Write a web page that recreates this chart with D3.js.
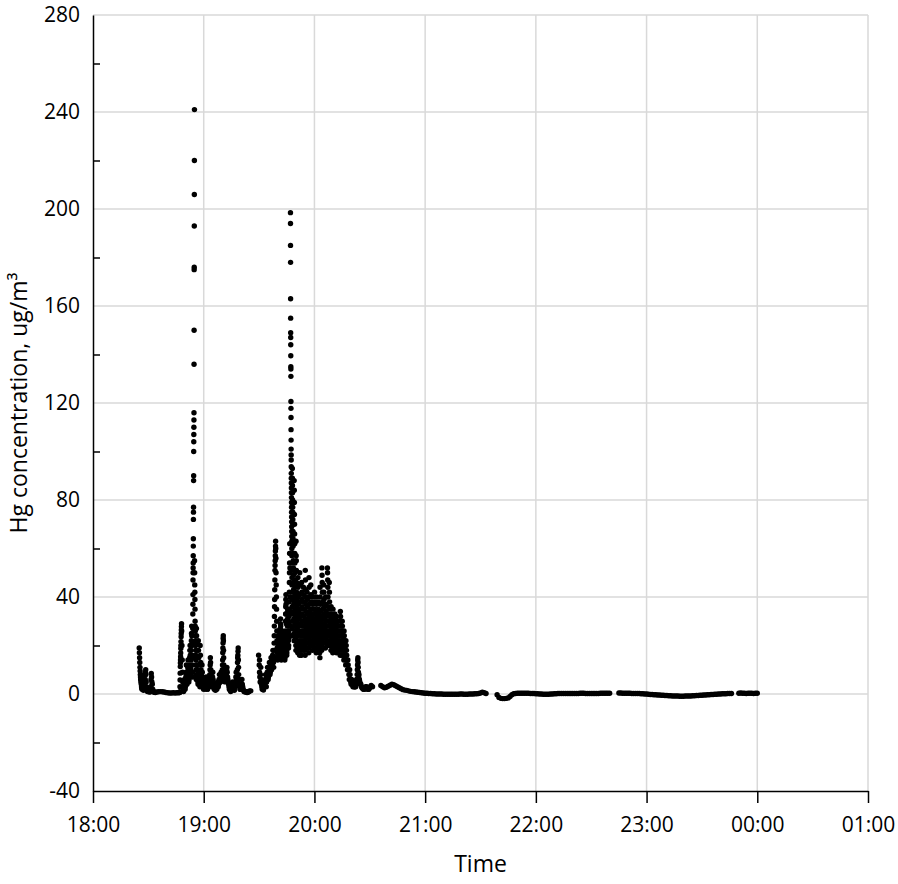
<!DOCTYPE html>
<html>
<head>
<meta charset="utf-8">
<script src="https://cdn.jsdelivr.net/npm/d3@7/dist/d3.min.js"></script>
<style>
  html, body { margin: 0; padding: 0; background: #fff; }
  svg { display: block; }
  text { font-family: "Open Sans", "Noto Sans", sans-serif; fill: #000; }
</style>
</head>
<body>
<svg id="chart" width="898" height="884"></svg>
<script>
// ---- Data (minutes after 18:00) ----
// Burst readings: [minute, readings within that minute...]
const burstRowsA = [
  [25, 19, 17, 15, 13, 11, 9.5, 8, 7, 6, 5],
  [26, 6, 4, 3, 2.5, 2, 4, 7, 6],
  [27, 3, 2, 1.5, 5, 8, 6, 4],
  [28, 2, 3, 6, 9, 10, 8, 5, 3],
  [29, 2, 1.5, 1, 1.5, 1],
  [30, 1, 1, 0.8],
  [31, 1, 3, 6, 8.5, 7, 5],
  [32, 4, 2, 1, 0.8],
  [33, 0.8, 0.6],
  [34, 0.8], [35, 0.9], [36, 1], [37, 0.9], [38, 0.8], [39, 0.6], [40, 0.5],
  [41, 0.4], [42, 0.4], [43, 0.5], [44, 0.4], [45, 0.5],
  [46, 0.5, 0.6],
  [47, 0.6, 1, 3, 5.8, 8.6, 11.3, 12.8, 14, 15.4, 16.9, 18.8, 20, 21.6, 23.6, 25, 26.4, 27.8, 29],
  [48, 26, 20, 14, 9, 5, 3, 1.5],
  [49, 1, 2, 4, 6, 3, 2],
  [50, 3, 5, 7, 9, 12, 8, 6, 4],
  [51, 5, 8, 11, 14, 10, 7, 5],
  [52, 6, 9, 12, 15, 18, 20, 16, 11, 8],
  [53, 10, 14, 18, 22, 25, 28, 24, 20, 16, 12, 9, 7],
  [54, 15, 21, 27, 33, 37, 41, 47, 50, 52, 54, 57, 61, 64, 72, 75, 77, 88, 90, 100, 104, 107, 110, 113, 116, 136, 150, 175, 176, 193, 206, 220, 241],
  [55, 55, 50, 45, 42, 39, 35, 30, 28, 26, 24, 22, 20, 18, 16, 14, 12, 10, 8, 6],
  [56, 27, 24, 21, 18, 15, 12, 10, 8, 6, 5, 4],
  [57, 22, 18, 15, 12, 9, 7, 5, 4, 3],
  [58, 20, 16, 13, 10, 8, 6, 4],
  [59, 12, 9, 7, 5, 4, 3, 2],
  [60, 6, 4, 3, 2, 2.5, 4],
  [61, 3, 5, 7, 5, 3, 2],
  [62, 2, 3, 4, 6, 4, 3],
  [63, 4, 6, 8, 10, 12, 15, 13, 10, 8],
  [64, 7, 5, 4, 3, 5, 7, 9],
  [65, 6, 4, 3, 2, 3],
  [66, 2, 1.5, 2, 3],
  [67, 2, 3, 5, 4, 3],
  [68, 4, 6, 8, 6, 5],
  [69, 5, 7, 9, 7, 6, 8],
  [70, 8, 10, 12, 14, 17, 19, 21, 23, 24, 22, 18, 15, 12, 10],
  [71, 9, 7, 6, 5, 7, 8],
  [72, 6, 8, 10, 11, 9, 7],
  [73, 6, 5, 4, 3, 2],
  [74, 2, 1.5, 1, 1.5],
  [75, 1.5, 2, 3, 5, 4],
  [76, 3, 2, 1.5, 3],
  [77, 3, 5, 7, 9, 6, 4],
  [78, 5, 7, 10, 13, 15, 16, 17.6, 19, 14, 11, 8],
  [79, 6, 4, 3, 2, 2],
  [80, 2, 3, 4, 6, 4],
  [81, 3, 2, 1.5, 1],
  [82, 1, 0.8, 1],
  [83, 1, 0.6, 0.8],
  [84, 0.8, 1, 1.3],
  [85, 1.3]
];

const burstRowsB = [
  [89.5, 16, 14],
  [90, 12, 9, 7, 5, 8, 11],
  [91, 6, 4, 3, 2, 3],
  [92, 2, 1.6, 3, 5],
  [93, 4, 6, 8, 5, 3],
  [94, 5, 7, 9, 11, 8, 6],
  [95, 7, 9, 11, 13, 10, 8],
  [96, 9, 11, 13, 15, 12, 10, 14],
  [97, 12, 14, 16, 18, 15, 13, 11],
  [98, 15, 18, 21, 24, 28, 32, 36, 39, 43, 47, 51, 53, 55, 57, 59, 61, 63],
  [99, 60, 56, 50, 45, 40, 35, 30, 26, 22, 19, 17, 15],
  [100, 14, 16, 18, 20, 22, 24, 26, 23, 21, 19, 17, 15],
  [101, 15, 17, 19, 21, 23, 25, 27, 29, 31, 28, 24, 20, 16],
  [102, 14, 16, 18, 20, 22, 24, 26, 23, 20, 17, 15],
  [103, 15, 17, 19, 21, 23, 25, 22, 19, 16, 14],
  [104, 15, 17, 20, 23, 26, 30, 33, 36, 39, 41, 37, 33, 29, 25, 21, 18, 16],
  [105, 17, 19, 22, 25, 28, 31, 35, 38, 34, 30, 26, 22, 19],
  [106, 20, 23, 26, 29, 32, 35, 38, 42, 46, 50, 54, 58, 62, 58, 52, 46, 40, 34, 28, 24],
  [107, 198.5, 194, 185, 178, 163, 155, 149, 147, 144, 139.5, 135, 134, 131, 120.6, 117.8, 114, 109, 104.7, 101, 98.6, 96.5, 93.7, 91, 89, 87, 85, 83, 81, 79, 77, 75, 73, 71, 69, 67, 65, 63, 60, 57, 54, 51, 48, 45, 42, 39, 36, 33, 30, 27, 24],
  [108, 93, 89, 86, 83, 80, 77, 75, 72, 70, 67, 64, 61, 58, 55, 52, 49, 46, 43, 40, 37, 34, 31, 28, 25, 22],
  [109, 88, 84, 79, 74, 70, 66, 62, 58, 54, 50, 47, 44, 41, 38, 35, 32, 29, 26, 23, 20, 18],
  [110, 63, 57, 55, 51, 46, 42, 39, 36, 33, 30, 27, 24, 21, 19, 17],
  [111, 48, 44, 40, 37, 34, 31, 28, 25, 22, 20, 18, 16],
  [112, 50, 45, 41, 38, 35, 32, 29, 26, 24, 22, 20, 18, 16],
  [113, 46, 42, 39, 36, 33, 30, 28, 26, 24, 22, 20, 18],
  [114, 44, 41, 38, 35, 32, 30, 28, 26, 24, 22, 20, 18, 16],
  [115, 51, 47, 43, 40, 37, 34, 31, 29, 27, 25, 23, 21, 19],
  [116, 42, 39, 36, 33, 31, 29, 27, 25, 23, 21, 19, 17],
  [117, 48, 44, 40, 37, 34, 32, 30, 28, 26, 24, 22, 20],
  [118, 45, 41, 38, 35, 32, 30, 28, 26, 24, 22, 20, 18],
  [119, 40, 37, 35, 33, 31, 29, 27, 25, 23, 21, 19],
  [120, 42, 38, 35, 33, 31, 29, 27, 25, 23, 21, 19, 17],
  [121, 40, 37, 34, 32, 30, 28, 26, 24, 22, 20, 18],
  [122, 38, 35, 33, 31, 29, 27, 25, 23, 21, 19, 17, 15],
  [123, 44, 40, 37, 34, 32, 30, 28, 26, 24, 22, 20, 18],
  [124, 52, 49, 46, 42, 38, 35, 32, 29, 27, 25, 23, 21],
  [125, 45, 42, 39, 36, 33, 31, 29, 27, 25, 23, 21, 19],
  [126, 40, 37, 34, 32, 30, 28, 26, 24, 22, 20],
  [127, 52, 50, 47, 44, 40, 36, 33, 30, 28, 26, 24, 22, 20],
  [128, 46, 42, 38, 35, 32, 30, 28, 26, 24, 22, 20, 18],
  [129, 36, 33, 31, 29, 27, 25, 23, 21, 19, 17],
  [130, 35, 32, 30, 28, 26, 24, 22, 20, 18],
  [131, 33, 31, 29, 27, 25, 23, 21, 19, 17],
  [132, 32, 30, 28, 26, 24, 22, 20, 18],
  [133, 30, 28, 26, 24, 22, 20, 18, 16],
  [134, 34, 32, 30, 28, 26, 24, 22, 20, 18, 16],
  [135, 30, 28, 26, 24, 22, 20, 18, 16, 14],
  [136, 26, 24, 22, 20, 18, 16, 14, 12],
  [137, 22, 20, 18, 16, 14, 12, 10],
  [138, 14, 12, 10, 8, 6],
  [139, 10, 8, 6, 5, 4],
  [140, 6, 5, 4, 3],
  [141, 5, 4, 3, 3],
  [142, 4, 3, 4, 6],
  [143, 6, 8, 10, 12, 14, 15, 13, 11, 9, 7],
  [144, 8, 6, 5, 4],
  [145, 4, 3, 2.5],
  [146, 2.5, 2, 2],
  [147, 2, 2.5, 3],
  [148, 3, 2.5, 2],
  [149, 2, 2, 2.5],
  [150, 3, 3.5],
  [151, 3]
];

// Steady readings, one per minute, each run with its start minute
const flatStartC = 156;
const flatC = [3.5, 3.0, 2.6, 2.8, 3.2, 3.6, 4.0, 3.8, 3.4, 3.0,
  2.6, 2.2, 1.8, 1.6, 1.5, 1.3, 1.1, 1.0, 0.9, 0.8,
  0.7, 0.6, 0.5, 0.4, 0.3, 0.3, 0.2, 0.2, 0.1, 0.1,
  0.0, 0.0, 0.0, 0.0, -0.1, -0.1, -0.1, -0.1, -0.1, -0.1,
  -0.1, -0.1, -0.1, 0.0, 0.0, -0.1, -0.1, -0.1, 0.0, 0.0,
  0.0, 0.1, 0.1, 0.2, 0.4, 0.7, 0.5, 0.2];
const flatStartD = 219;
const flatD = [-0.3, -1.4, -1.8, -1.9, -1.9, -1.8, -1.6, -1.0, -0.3, 0.1,
  0.2, 0.3, 0.3, 0.3, 0.3, 0.3, 0.3, 0.3, 0.2, 0.2,
  0.2, 0.1, 0.1, 0.0, 0.0, -0.1, -0.1, -0.1, -0.1, 0.0,
  0.0, 0.1, 0.1, 0.2, 0.2, 0.2, 0.2, 0.2, 0.2, 0.2,
  0.2, 0.2, 0.2, 0.2, 0.2, 0.3, 0.3, 0.3, 0.2, 0.2,
  0.2, 0.2, 0.2, 0.2, 0.2, 0.2, 0.3, 0.3, 0.3, 0.3, 0.3, 0.3];
const flatStartE = 285;
const flatE = [0.4, 0.4, 0.3, 0.3, 0.3, 0.3, 0.3, 0.2, 0.2, 0.2,
  0.2, 0.2, 0.1, 0.1, 0.0, 0.0, -0.1, -0.2, -0.2, -0.3,
  -0.3, -0.4, -0.4, -0.5, -0.5, -0.6, -0.6, -0.7, -0.7, -0.8,
  -0.8, -0.8, -0.8, -0.9, -0.9, -0.9, -0.8, -0.8, -0.8, -0.8,
  -0.7, -0.7, -0.6, -0.6, -0.5, -0.5, -0.4, -0.4, -0.3, -0.3,
  -0.2, -0.2, -0.1, -0.1, 0.0, 0.0, 0.1, 0.1, 0.1, 0.2, 0.2, 0.2];
const flatStartF = 350;
const flatF = [0.3, 0.4, 0.3, 0.3, 0.2, 0.3, 0.3, 0.3, 0.2, 0.3, 0.3];

const yTickValues = [-40, 0, 40, 80, 120, 160, 200, 240, 280];
const yMinorValues = [-20, 20, 60, 100, 140, 180, 220, 260];
const xLabel = "Time";
const yLabel = "Hg concentration, ug/m³";

// ---- Build points ----
const BASE = new Date(2000, 0, 1, 18, 0, 0);
const toDate = m => new Date(BASE.getTime() + m * 60000);
const points = [];
[burstRowsA, burstRowsB].forEach(rows => rows.forEach(row => {
  const m0 = row[0], vals = row.slice(1), n = vals.length;
  vals.forEach((v, i) => points.push({ t: toDate(m0 + (i + 0.5) / n), v }));
}));
[[flatStartC, flatC], [flatStartD, flatD], [flatStartE, flatE], [flatStartF, flatF]]
  .forEach(([s, arr]) => arr.forEach((v, i) => points.push({ t: toDate(s + i), v })));

// ---- Scales ----
const L = 93, R = 868, T = 15, B = 791;
const x = d3.scaleTime().domain([BASE, toDate(420)]).range([L, R]);
const y = d3.scaleLinear().domain([-40, 280]).range([B, T]);

const svg = d3.select("#chart");
const hourTicks = x.ticks(d3.timeHour.every(1));

// Gridlines
svg.append("g").selectAll("line").data(yTickValues.filter(v => v !== -40)).join("line")
  .attr("x1", L).attr("x2", R).attr("y1", d => y(d)).attr("y2", d => y(d))
  .attr("stroke", "#d9d9d9").attr("stroke-width", 1.5);
svg.append("g").selectAll("line").data(hourTicks.slice(1)).join("line")
  .attr("x1", d => x(d)).attr("x2", d => x(d)).attr("y1", T).attr("y2", B)
  .attr("stroke", "#d9d9d9").attr("stroke-width", 1.5);

// Points
svg.append("g").selectAll("circle").data(points).join("circle")
  .attr("cx", d => x(d.t)).attr("cy", d => y(d.v)).attr("r", 2.7)
  .attr("fill", "#000");

// X axis
const xAxis = svg.append("g").attr("transform", `translate(0,${B})`)
  .call(d3.axisBottom(x).ticks(d3.timeHour.every(1)).tickFormat(d3.timeFormat("%H:%M"))
    .tickSizeInner(12).tickSizeOuter(0).tickPadding(14));
xAxis.select(".domain").attr("stroke", "#000").attr("stroke-width", 1.5);
xAxis.selectAll(".tick line").attr("stroke", "#000").attr("stroke-width", 1.5);
xAxis.selectAll(".tick text").style("font-size", "21px").attr("font-family", null)
  .attr("dy", "0.71em");

// Y axis (labels only, no major ticks)
const yAxis = svg.append("g").attr("transform", `translate(${L},0)`)
  .call(d3.axisLeft(y).tickValues(yTickValues).tickFormat(d => String(d))
    .tickSizeInner(0).tickSizeOuter(0).tickPadding(13));
yAxis.select(".domain").attr("stroke", "#000").attr("stroke-width", 1.5);
yAxis.selectAll(".tick text").style("font-size", "21px").attr("font-family", null);
yAxis.selectAll(".tick line").remove();

// Y minor ticks (inside)
svg.append("g").attr("transform", `translate(${L},0)`)
  .call(d3.axisRight(y).tickValues(yMinorValues).tickSizeInner(7).tickSizeOuter(0).tickFormat(""))
  .call(g => g.select(".domain").remove())
  .call(g => g.selectAll(".tick line").attr("stroke", "#000").attr("stroke-width", 1.5));

// Titles
svg.append("text").attr("x", (L + R) / 2).attr("y", 872).attr("text-anchor", "middle")
  .style("font-size", "23px").text(xLabel);
svg.append("text").attr("transform", `translate(27,${(T + B) / 2}) rotate(-90)`)
  .attr("text-anchor", "middle").style("font-size", "23px").text(yLabel);
</script>
</body>
</html>
